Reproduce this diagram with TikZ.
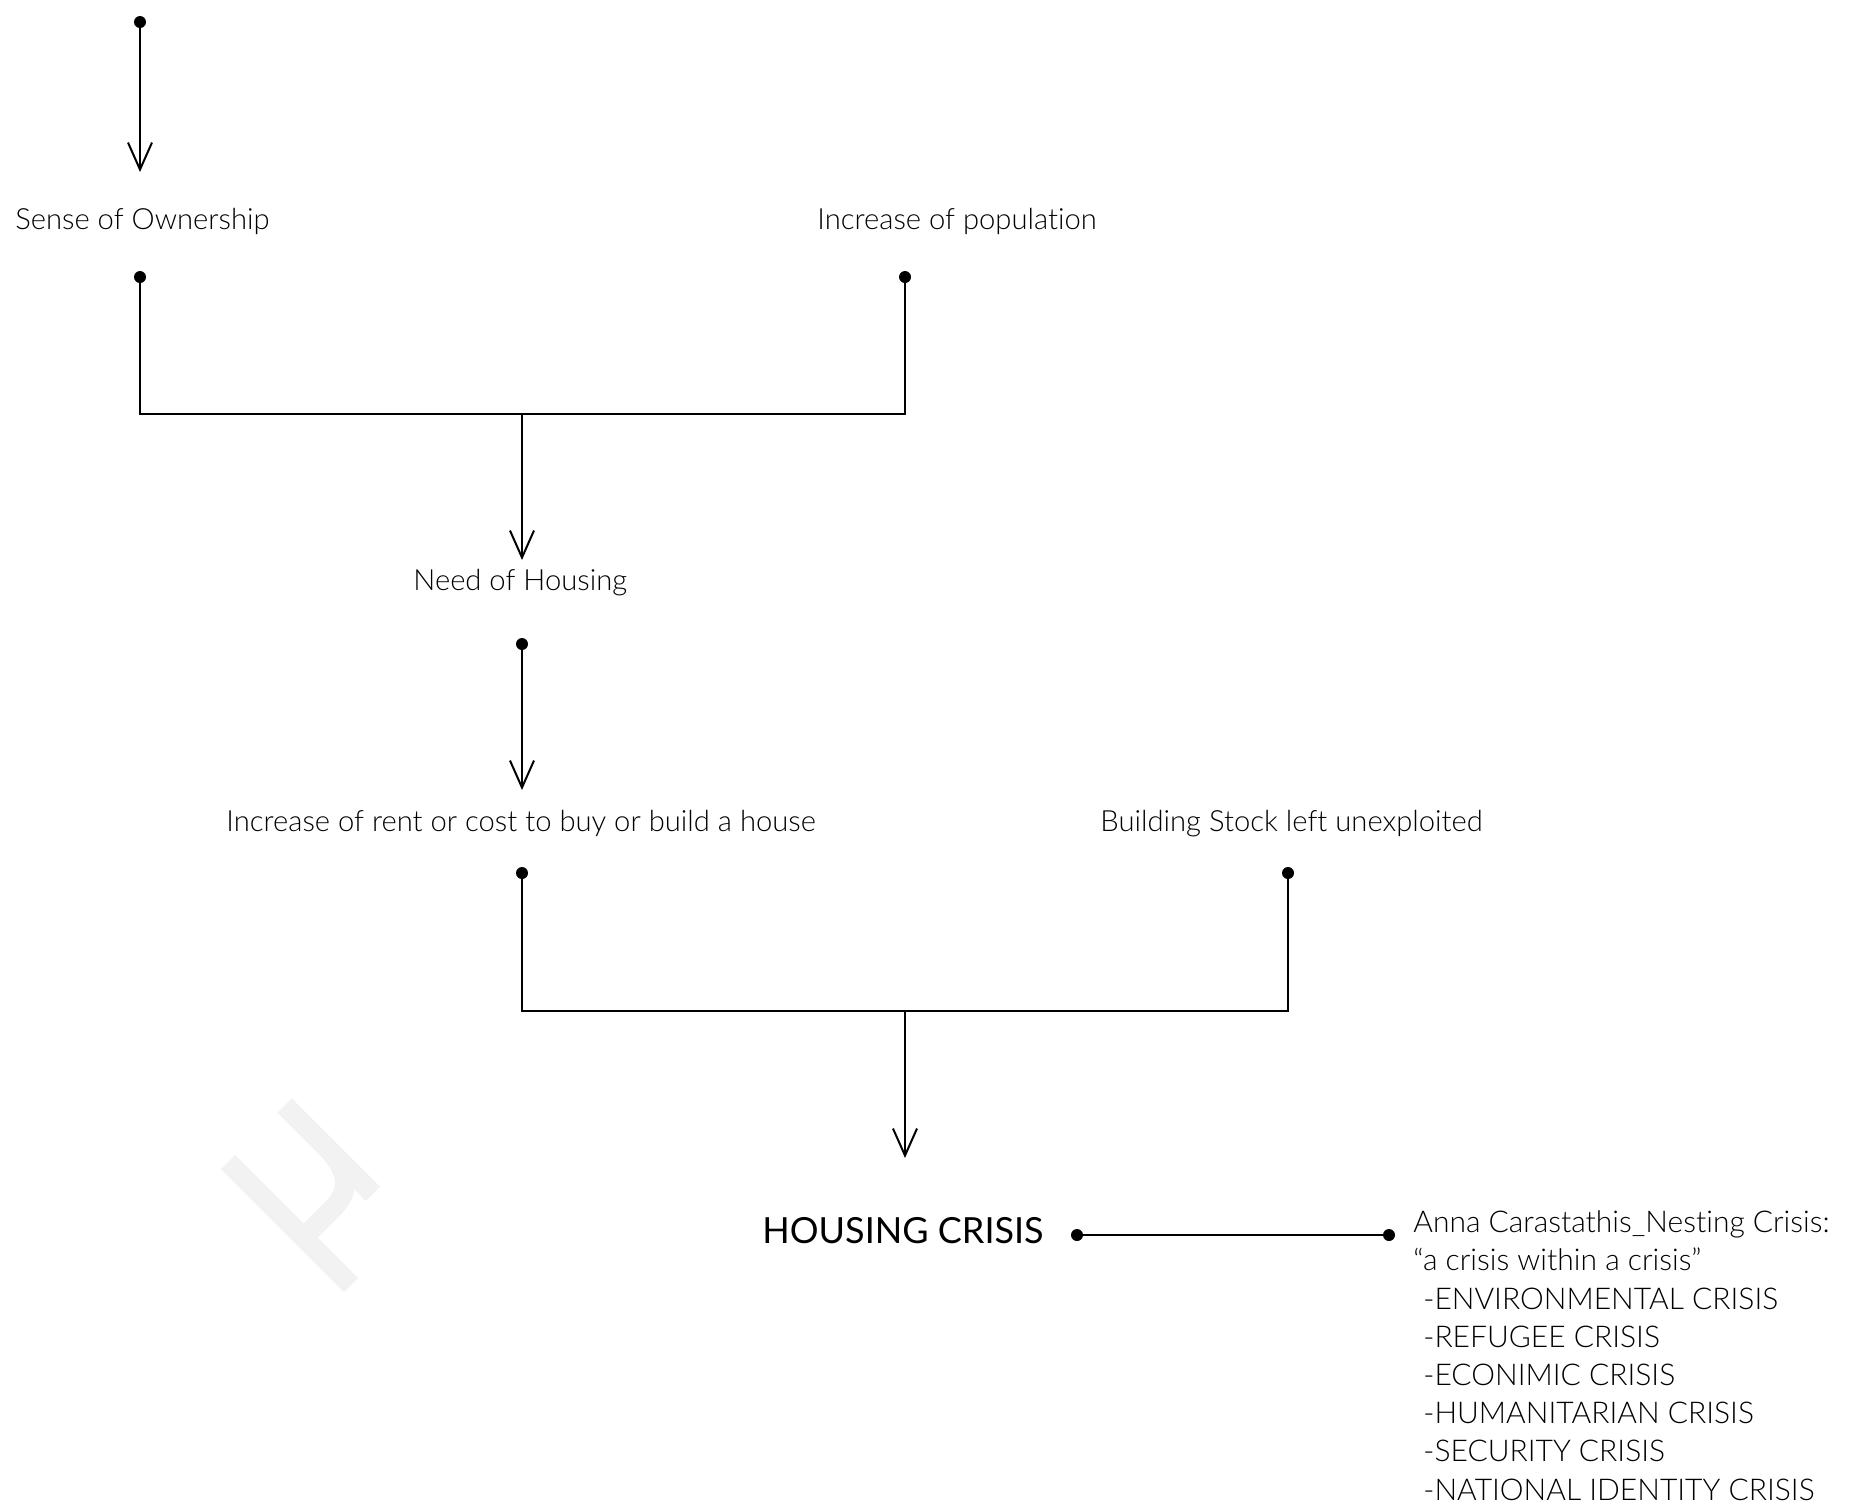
\documentclass[tikz,border=0pt]{standalone}
\usepackage{fontspec}
\setmainfont{Lato}[UprightFont=* Light, BoldFont=* Regular, Ligatures={TeX,NoCommon}]
\usetikzlibrary{arrows.meta}
\definecolor{wm}{HTML}{F2F2F2}
\tikzset{
  x=0.5pt, y=0.5pt,
  lbl/.style={anchor=base west, inner sep=0pt, font=\fontsize{14.6}{18.9}\selectfont},
  annalbl/.style={anchor=base west, inner sep=0pt, align=left, font=\fontsize{15}{19.1}\selectfont},
  big/.style={anchor=base west, inner sep=0pt, font=\fontsize{18}{22}\selectfont\bfseries},
  conn/.style={line width=1pt},
  arr/.style={conn, -{Straight Barb[length=13.5pt,width=12pt]}},
  dotc/.style={fill=black},
  wmstroke/.style={line width=10pt, draw=wm}
}
\begin{document}
\begin{tikzpicture}
\useasboundingbox (0,0) rectangle (1849,-1506);
% watermark
\begin{scope}[shift={(228,-1162)}, rotate=45]
  \draw[wmstroke] (0,0) -- (0,-174);
  \draw[wmstroke] (80,0) -- (80,-125);
  \draw[wmstroke] (80,-55) .. controls (80,-95) and (65,-107) .. (40,-107) -- (0,-107);
\end{scope}
% coordinates
\coordinate (top) at (140,-22);
\coordinate (sensein) at (140,-172);
\coordinate (sensedot) at (140,-277);
\coordinate (popdot) at (905,-277);
\coordinate (j1) at (522,-414);
\coordinate (needin) at (522,-560);
\coordinate (needdot) at (522,-644);
\coordinate (rentin) at (522,-790);
\coordinate (rentdot) at (522,-873);
\coordinate (stockdot) at (1288,-873);
\coordinate (j2) at (905,-1011);
\coordinate (crisisin) at (905,-1158);
\coordinate (crisisdot) at (1077,-1235);
\coordinate (annadot) at (1389,-1235);
% labels
\node[lbl] (sense) at (15,-229) {Sense of Ownership};
\node[lbl] (pop) at (817,-229) {Increase of population};
\node[lbl] (need) at (413,-590) {Need of Housing};
\node[lbl] (rent) at (226,-831) {Increase of rent or cost to buy or build a house};
\node[lbl] (stock) at (1100,-831) {Building Stock left unexploited};
\node[big] (crisis) at (762,-1243) {HOUSING CRISIS};
\node[annalbl] (anna) at (1413,-1500) {Anna Carastathis\_Nesting Crisis:\\
“a crisis within a crisis”\\
\hspace*{5pt}-ENVIRONMENTAL CRISIS\\
\hspace*{5pt}-REFUGEE CRISIS\\
\hspace*{5pt}-ECONIMIC CRISIS\\
\hspace*{5pt}-HUMANITARIAN CRISIS\\
\hspace*{5pt}-SECURITY CRISIS\\
\hspace*{5pt}-NATIONAL IDENTITY CRISIS};
% connectors
\draw[arr] (top) -- (sensein);
\draw[conn] (sensedot) |- (j1) -| (popdot);
\draw[arr] (j1) -- (needin);
\draw[arr] (needdot) -- (rentin);
\draw[conn] (rentdot) |- (j2) -| (stockdot);
\draw[arr] (j2) -- (crisisin);
\draw[conn] (crisisdot) -- (annadot);
% dots
\foreach \d in {top,sensedot,popdot,needdot,rentdot,stockdot,crisisdot,annadot}
  \fill[dotc] (\d) circle (3pt);
\end{tikzpicture}
\end{document}
